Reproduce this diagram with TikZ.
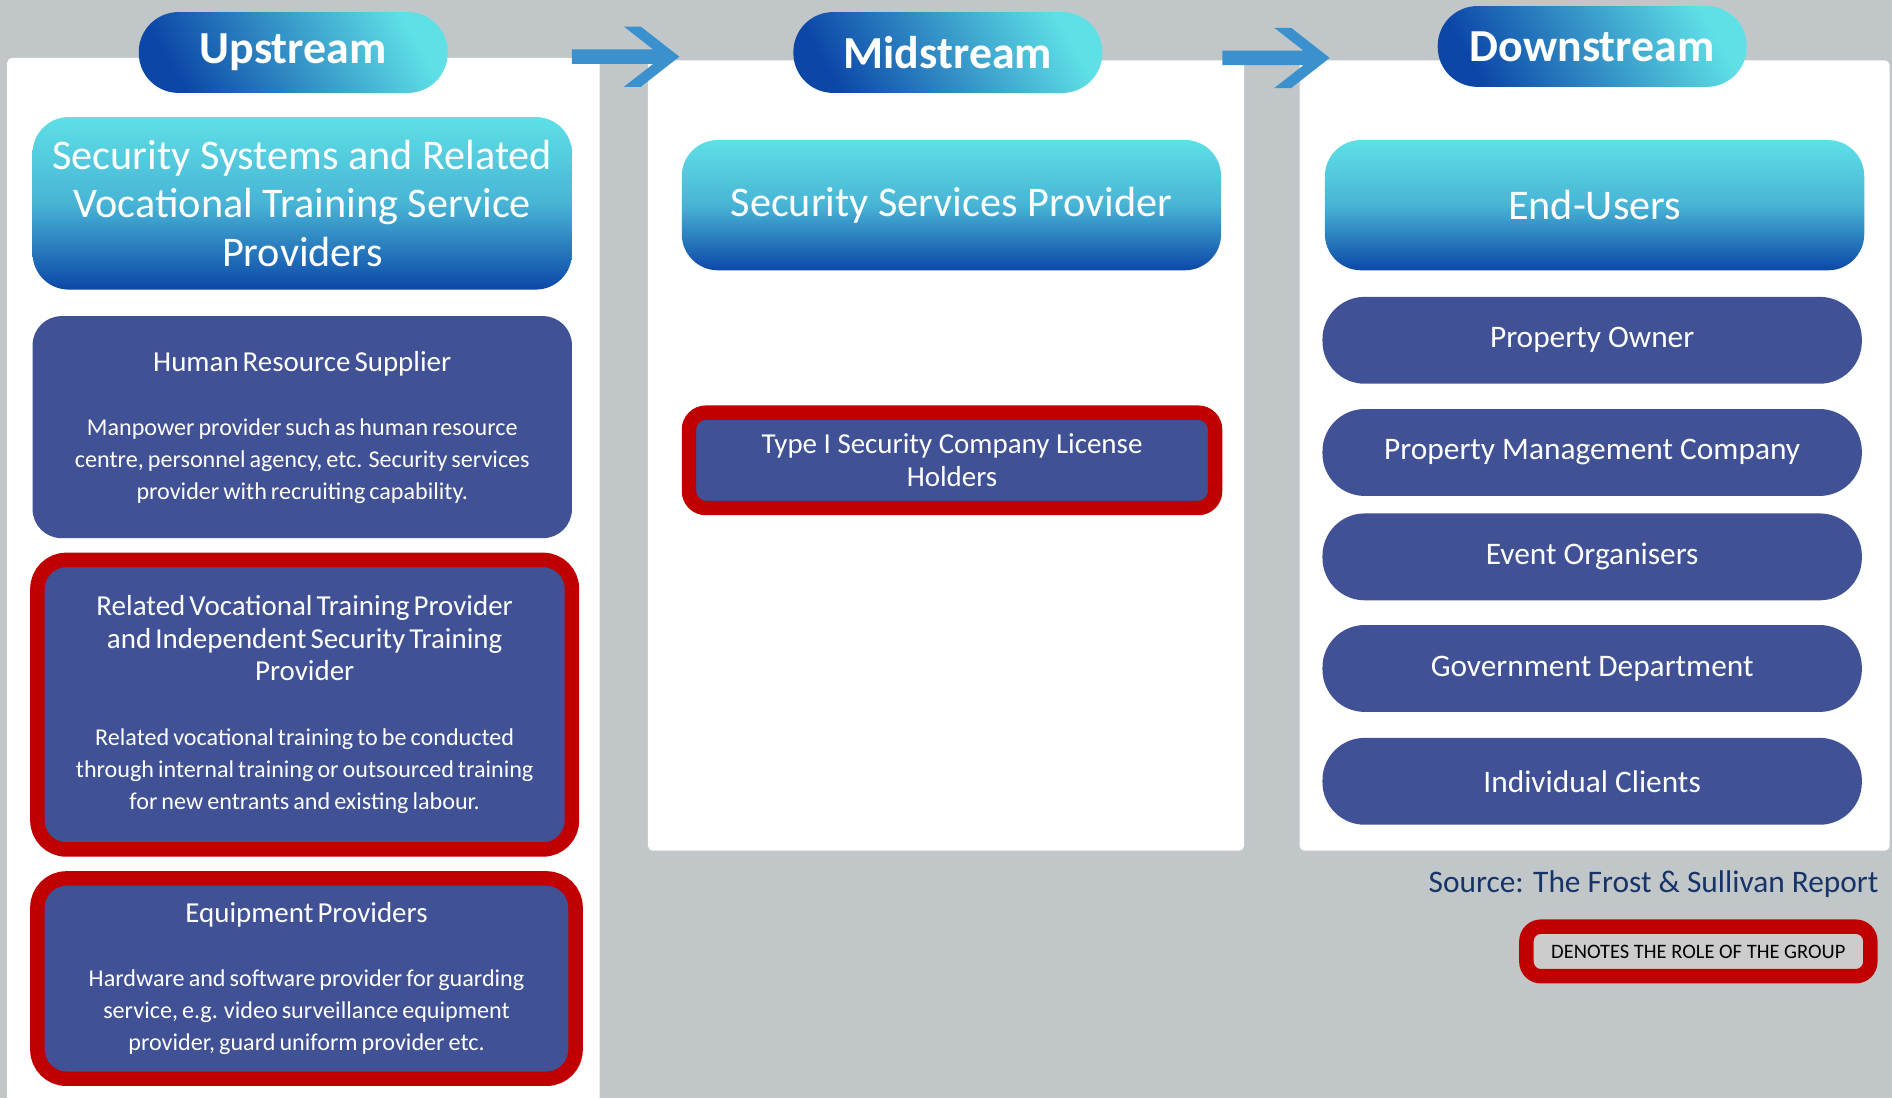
\documentclass[tikz,border=0pt]{standalone}
\usepackage{fontspec}
\setmainfont{Carlito}
\definecolor{bgray}{RGB}{193,199,200}
\definecolor{boxblue}{RGB}{65,81,149}
\definecolor{hlred}{RGB}{192,0,0}
\definecolor{hdcyan}{RGB}{94,224,230}
\definecolor{hdmid}{RGB}{72,180,213}
\definecolor{hdblue}{RGB}{12,71,168}
\definecolor{arrblue}{RGB}{58,145,206}
\definecolor{srcblue}{RGB}{22,52,104}
\definecolor{legendgray}{RGB}{204,204,204}

\tikzset{
  stagepill/.style={rounded corners=33pt, left color=hdblue, right color=hdcyan, shading angle=120,
    minimum width=256pt, minimum height=67pt, text=white, font=\fontsize{38}{40}\selectfont\bfseries},
  headbox/.style={rounded corners=30pt, top color=hdcyan, bottom color=hdblue, middle color=hdmid,
    minimum width=447pt, text=white, align=center, font=\fontsize{35}{40}\selectfont},
  rolebox/.style={rounded corners=24pt, fill=boxblue, text=white, align=center},
  ourbox/.style={rolebox, draw=hlred, line width=12pt},
  userpill/.style={rounded corners=35pt, fill=boxblue, text=white, minimum width=447pt,
    minimum height=72pt, font=\fontsize{26}{30}\selectfont},
}

\begin{document}
\begin{tikzpicture}[x=1pt,y=-1pt]

\fill[bgray] (0,0) rectangle (1568,910);
\useasboundingbox (0,0) rectangle (1568,910);

% white panels
\fill[white, rounded corners=4pt] (6,910) -- (6,48) -- (497,48) -- (497,910);
\fill[white, rounded corners=4pt] (537,50) rectangle (1031,705);
\fill[white, rounded corners=4pt] (1077,50) rectangle (1566,705);

% flow arrows
\fill[arrblue] (474,41) -- (541.3,41) -- (517,22) -- (531,22) -- (563,47) -- (531,72)
   -- (517,72) -- (541.3,53) -- (474,53) -- cycle;
\fill[arrblue] (1013,42) -- (1080.3,42) -- (1056,23) -- (1070,23) -- (1102,48) -- (1070,73)
   -- (1056,73) -- (1080.3,54) -- (1013,54) -- cycle;

\node[stagepill] (up) at (243,43.5) {Upstream};
\node[stagepill] (mid) at (785.5,43.5) {Midstream};
\node[stagepill] (down) at (1319.5,38.5) {Downstream};

% upstream column
\node[headbox, minimum height=143pt] (sysprov) at (250.5,168.5)
   {Security Systems and Related\\ Vocational Training Service\\ Providers};

\node[rolebox, minimum width=447pt, minimum height=184pt, text width=430pt] (hrsup) at (250.5,354)
   {{\fontsize{24}{28}\selectfont Human Resource Supplier\par}\vspace{26.5pt}
    {\fontsize{20}{26.5}\selectfont Manpower provider such as human resource\\
     centre, personnel agency, etc. Security services\\
     provider with recruiting capability.\par}};

\fill[boxblue, rounded corners=24pt] (27,466) rectangle (474,700);
\node[ourbox, minimum width=443pt, minimum height=240pt, text width=420pt] (training) at (252.5,584)
   {{\fontsize{24}{27}\selectfont Related Vocational Training Provider\\
     and Independent Security Training\\ Provider\par}\vspace{27pt}
    {\fontsize{20}{26.5}\selectfont Related vocational training to be conducted\\
     through internal training or outsourced training\\
     for new entrants and existing labour.\par}};

\node[ourbox, minimum width=446pt, minimum height=166pt, text width=420pt] (equip) at (254,811)
   {{\fontsize{24}{27}\selectfont Equipment Providers\par}\vspace{26.5pt}
    {\fontsize{20}{26.5}\selectfont Hardware and software provider for guarding\\
     service, e.g. video surveillance equipment\\
     provider, guard uniform provider etc.\par}};

% midstream column
\node[headbox, minimum height=108pt] (secprov) at (788.5,170) {Security Services Provider};
\node[ourbox, rounded corners=14pt, minimum width=436pt, minimum height=79pt,
   font=\fontsize{24}{27}\selectfont] (typei) at (789,381.5)
   {Type I Security Company License\\ Holders};

% downstream column
\node[headbox, minimum height=108pt] (endusers) at (1321.5,170) {End-Users};
\node[userpill] (owner) at (1319.5,282) {Property Owner};
\node[userpill] (pmc) at (1319.5,375) {Property Management Company};
\node[userpill] (event) at (1319.5,461.5) {Event Organisers};
\node[userpill] (gov) at (1319.5,554) {Government Department};
\node[userpill] (indiv) at (1319.5,647.5) {Individual Clients};

\node[anchor=east, inner sep=0pt, text=srcblue, font=\fontsize{26}{30}\selectfont] (source)
   at (1557,733) {Source: The Frost \& Sullivan Report};
\node[draw=hlred, line width=12pt, rounded corners=12pt, fill=legendgray, minimum width=285pt,
   minimum height=41pt, font=\fontsize{17}{20}\selectfont] (legend) at (1407.5,788.5)
   {DENOTES THE ROLE OF THE GROUP};

\end{tikzpicture}
\end{document}
